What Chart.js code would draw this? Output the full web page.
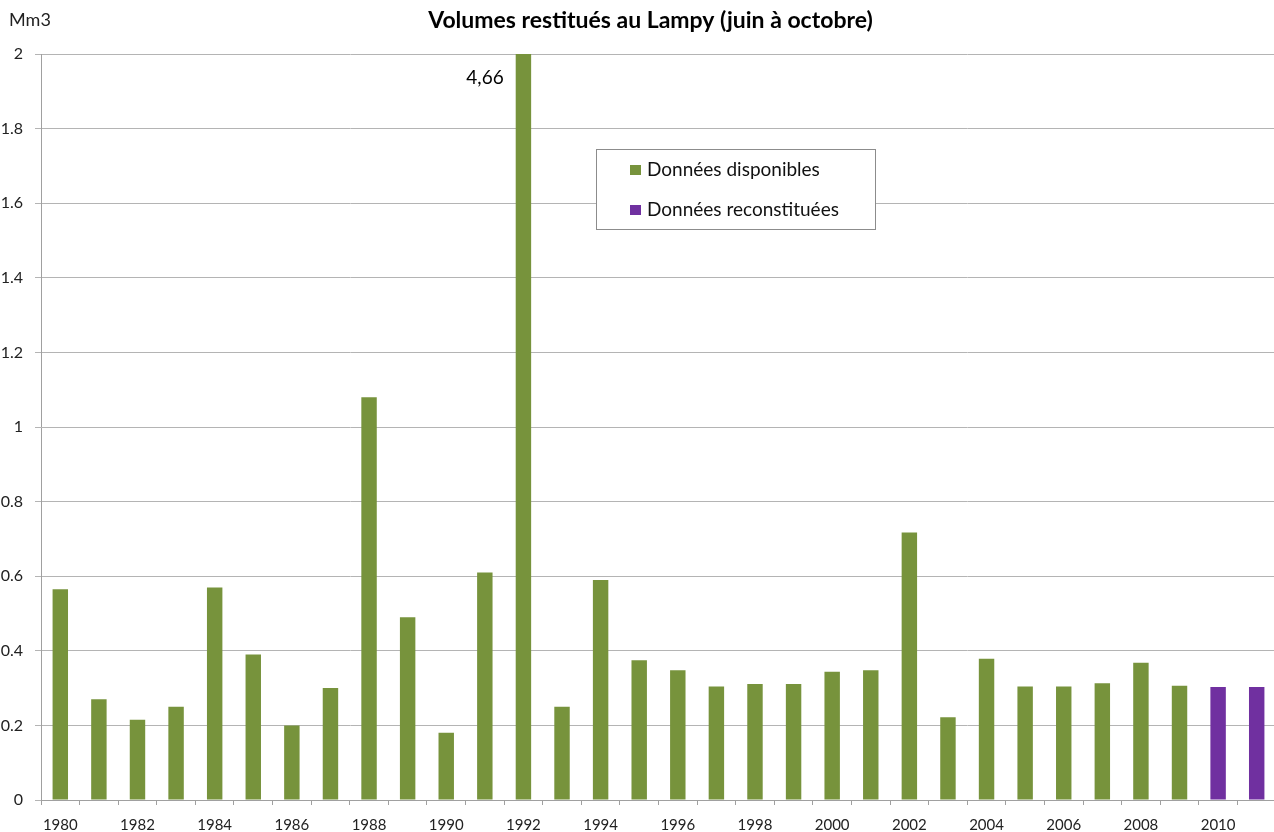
<!DOCTYPE html>
<html>
<head>
<meta charset="utf-8">
<script src="https://cdn.jsdelivr.net/npm/chart.js@4/dist/chart.umd.min.js"></script>
<style>
  html, body { margin: 0; padding: 0; background: #fff; overflow: hidden; }
  #wrap { position: absolute; left: 0; top: 0; width: 1280px; height: 832px; }
</style>
</head>
<body>
<div id="wrap"><canvas id="c" width="1280" height="832"></canvas></div>
<script>
const years = ['1980','1981','1982','1983','1984','1985','1986','1987','1988','1989',
               '1990','1991','1992','1993','1994','1995','1996','1997','1998','1999',
               '2000','2001','2002','2003','2004','2005','2006','2007','2008','2009',
               '2010','2011'];
const disponibles = [0.565,0.27,0.215,0.25,0.57,0.39,0.2,0.3,1.08,0.49,
                     0.18,0.61,4.66,0.25,0.59,0.375,0.348,0.304,0.311,0.311,
                     0.344,0.348,0.717,0.222,0.379,0.304,0.304,0.313,0.368,0.306,
                     null,null];
const reconstituees = [null,null,null,null,null,null,null,null,null,null,
                       null,null,null,null,null,null,null,null,null,null,
                       null,null,null,null,null,null,null,null,null,null,
                       0.303,0.303];
const yTicks = [0,0.2,0.4,0.6,0.8,1,1.2,1.4,1.6,1.8,2];
const titleText = 'Volumes restitués au Lampy (juin à octobre)';
const unitText = 'Mm3';
const seriesNames = ['Données disponibles','Données reconstituées'];
const colors = ['#77933C','#7030A0'];

const FONT = 'Lato, "Open Sans", sans-serif';

const extras = {
  id: 'extras',
  afterDraw(chart) {
    const ctx = chart.ctx, a = chart.chartArea;
    ctx.save();
    // title
    ctx.fillStyle = '#000';
    ctx.font = 'bold 23px ' + FONT;
    ctx.textAlign = 'center';
    ctx.textBaseline = 'middle';
    ctx.fillText(titleText, (a.left + a.right) / 2 - 8, a.top - 33);
    // unit
    ctx.font = '18px ' + FONT;
    ctx.fillStyle = '#222';
    ctx.textAlign = 'left';
    ctx.fillText(unitText, a.left - 32, a.top - 34);
    // value label for clipped bar
    const ys = chart.scales.y;
    const meta = chart.getDatasetMeta(0);
    disponibles.forEach((v, i) => {
      if (v !== null && v > ys.max) {
        const el = meta.data[i];
        ctx.font = '19px ' + FONT;
        ctx.fillStyle = '#000';
        ctx.textAlign = 'right';
        ctx.fillText(String(v).replace('.', ','), el.x - el.width / 2 - 12, a.top + 24);
      }
    });
    // legend box
    const bx = a.left + 555, by = a.top + 95, bw = 279, bh = 80;
    ctx.fillStyle = '#fff';
    ctx.fillRect(bx, by, bw, bh);
    ctx.strokeStyle = '#8c8c8c';
    ctx.lineWidth = 1;
    ctx.strokeRect(bx + 0.5, by + 0.5, bw, bh);
    ctx.font = '19px ' + FONT;
    ctx.textAlign = 'left';
    ctx.textBaseline = 'middle';
    chart.data.datasets.forEach((ds, i) => {
      const cy = by + 21 + i * 40;
      ctx.fillStyle = ds.backgroundColor;
      ctx.fillRect(bx + 34, cy - 5, 11, 10);
      ctx.fillStyle = '#111';
      ctx.fillText(ds.label, bx + 51, cy);
    });
    ctx.restore();
  }
};

new Chart(document.getElementById('c'), {
  type: 'bar',
  data: {
    labels: years,
    datasets: [
      { label: seriesNames[0], data: disponibles, backgroundColor: colors[0],
        barPercentage: 0.4, categoryPercentage: 1.0 },
      { label: seriesNames[1], data: reconstituees, backgroundColor: colors[1],
        barPercentage: 0.4, categoryPercentage: 1.0 }
    ]
  },
  options: {
    responsive: false,
    animation: false,
    layout: { padding: { top: 54, right: 4, left: 0, bottom: 0 } },
    plugins: { legend: { display: false }, tooltip: { enabled: false }, title: { display: false } },
    scales: {
      x: {
        stacked: true,
        offset: true,
        grid: { offset: true, drawOnChartArea: false, drawTicks: true, tickLength: 5, color: '#a0a0a0' },
        border: { display: true, color: '#a0a0a0', width: 1 },
        ticks: {
          autoSkip: false, maxRotation: 0, minRotation: 0, padding: 11,
          color: '#222', font: { family: FONT, size: 15 },
          callback: (v, i) => (i % 2 === 0 ? years[i] : '')
        },
        afterFit: (s) => { s.height = 32; }
      },
      y: {
        stacked: true,
        min: 0, max: 2,
        afterBuildTicks: (s) => { s.ticks = yTicks.map(v => ({ value: v })); },
        grid: { color: '#b4b4b4', lineWidth: 1, drawTicks: true, tickLength: 6 },
        border: { display: true, color: '#a0a0a0', width: 1 },
        ticks: {
          padding: 12, color: '#222', font: { family: FONT, size: 16 },
          callback: (v) => String(Number(v.toFixed(1)))
        },
        afterFit: (s) => { s.width = 41; }
      }
    }
  },
  plugins: [extras]
});
</script>
</body>
</html>
